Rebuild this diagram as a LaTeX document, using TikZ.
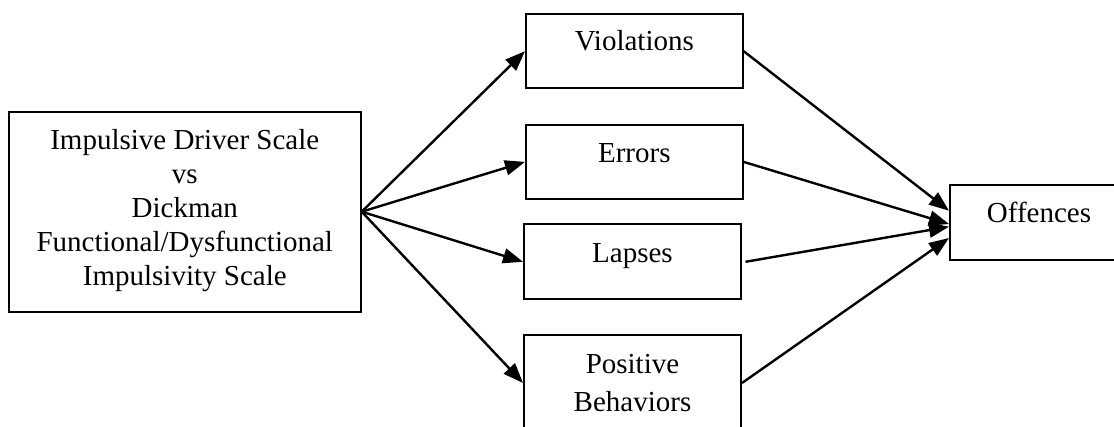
\documentclass[tikz,border=0pt]{standalone}
\usepackage{fontspec}
\setmainfont{Liberation Serif}
\usetikzlibrary{arrows.meta}
\begin{document}
\begin{tikzpicture}[x=1pt,y=1pt,
  box/.style={draw, line width=2pt, rectangle, inner sep=0pt},
  lbl/.style={font=\fontsize{29}{34}\selectfont, inner sep=0pt, align=center, anchor=base},
  conn/.style={line width=2.4pt, -{Triangle[length=20pt,width=15pt]}}]
\useasboundingbox (0,0) rectangle (1114,-427);
\clip (0,0) rectangle (1114,-427);
% boxes
\node[box, minimum width=351.8pt, minimum height=200pt] (src) at (184.8,-211.7) {};
\node[box, minimum width=216.7pt, minimum height=74.3pt] (viol) at (634.3,-51.2) {};
\node[box, minimum width=216.7pt, minimum height=73.7pt] (err) at (634.3,-161.9) {};
\node[box, minimum width=217pt, minimum height=75pt] (laps) at (632.5,-261.8) {};
\node[box, minimum width=217pt, minimum height=96pt] (pos) at (632.5,-383) {};
\node[box, minimum width=178pt, minimum height=75pt] (off) at (1039,-222.5) {};
% labels (base = baseline of the last line)
\node[lbl] (srcT) at (184.8,-285.3) {Impulsive Driver Scale\\vs\\Dickman\\Functional/Dysfunctional\\Impulsivity Scale};
\node[lbl] (violT) at (634.3,-50.7) {Violations};
\node[lbl] (errT) at (634.3,-162.3) {Errors};
\node[lbl] (lapsT) at (632.5,-262.3) {Lapses};
\node[lbl, font=\fontsize{29}{38.4}\selectfont] (posT) at (632.5,-411.7) {Positive\\Behaviors};
\node[lbl] (offT) at (1039,-222.7) {Offences};
% connectors
\draw[conn] (src.east) -- (viol.west);
\draw[conn] (src.east) -- (err.west);
\draw[conn] (src.east) -- (laps.west);
\draw[conn] (src.east) -- (pos.west);
\draw[conn] (viol.east) -- ([yshift=11.8pt]off.west);
\draw[conn] (err.east) -- ([yshift=-1.5pt]off.west);
\draw[conn] ([xshift=3.5pt]laps.east) -- ([yshift=-4.2pt]off.west);
\draw[conn] (pos.east) -- ([yshift=-15.5pt]off.west);
\end{tikzpicture}
\end{document}
